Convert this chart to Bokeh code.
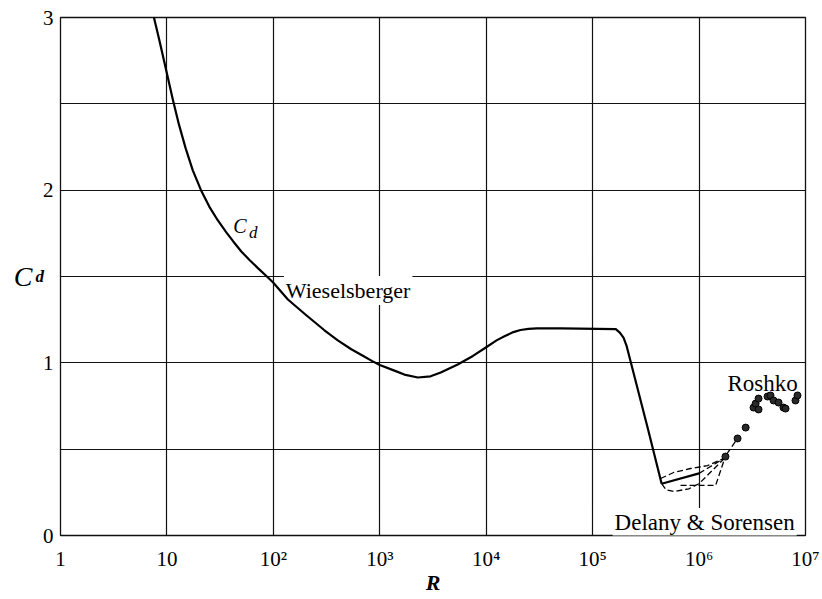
from bokeh.plotting import figure
from bokeh.models import Label, FixedTicker, LinearAxis
from bokeh.embed import file_html
from bokeh.resources import INLINE

# Wieselsberger drag curve for a circular cylinder: Reynolds number vs. C_d
wies_re = [7.55, 8.5, 10, 11.4, 13, 15, 17.5, 20.9, 25, 30, 36, 42, 50, 60,
           72, 88, 100, 137, 200, 300, 400, 535, 700, 850, 1000, 1410, 1700,
           2280, 3000, 3740, 5400, 7500, 1e4, 1.25e4, 1.5e4, 1.8e4, 2.1e4,
           2.5e4, 3e4, 5e4, 1.65e5, 1.8e5, 1.95e5, 2.08e5, 3.3e5, 4.45e5]
wies_cd = [3.0, 2.867, 2.675, 2.521, 2.378, 2.242, 2.115, 2.0, 1.905,
           1.826, 1.757, 1.703, 1.645, 1.594, 1.547, 1.497, 1.464, 1.367,
           1.28, 1.19, 1.132, 1.08, 1.04, 1.01, 0.988, 0.952, 0.932, 0.915,
           0.922, 0.944, 0.99, 1.04, 1.09, 1.13, 1.155, 1.178, 1.19, 1.197,
           1.2, 1.2, 1.195, 1.175, 1.146, 1.10, 0.62, 0.30]

# Delany & Sorensen, supercritical branch (solid + dashed runs)
ds_solid_re = [4.45e5, 1.0e6]
ds_solid_cd = [0.30, 0.36]
ds_upper_re = [4.35e5, 5.77e5, 8.3e5, 1.2e6, 1.7e6, 2.3e6]
ds_upper_cd = [0.33, 0.365, 0.388, 0.405, 0.446, 0.562]
ds_lower_re = [4.45e5, 4.9e5, 5.8e5, 8.0e5, 1.0e6, 1.75e6]
ds_lower_cd = [0.30, 0.265, 0.255, 0.27, 0.30, 0.45]
ds_flat_re = [6.7e5, 1.43e6, 1.75e6]
ds_flat_cd = [0.29, 0.29, 0.45]
ds_mid_re = [1.0e6, 1.75e6]
ds_mid_cd = [0.36, 0.45]

# Roshko measurements
roshko_re = [1.77e6, 2.30e6, 2.74e6, 3.25e6, 3.40e6, 3.62e6, 3.62e6, 4.40e6,
             4.69e6, 5.01e6, 5.58e6, 6.21e6, 6.49e6, 8.05e6, 8.41e6]
roshko_cd = [0.457, 0.562, 0.625, 0.741, 0.764, 0.793, 0.730, 0.805,
             0.811, 0.782, 0.770, 0.741, 0.735, 0.782, 0.811]

# Axis ticks
x_ticks = [1, 10, 1e2, 1e3, 1e4, 1e5, 1e6, 1e7]
x_tick_labels = ["1", "10", "10²", "10³", "10⁴", "10⁵", "10⁶", "10⁷"]
x_grid = [10, 1e2, 1e3, 1e4, 1e5, 1e6]
y_ticks = [0, 1, 2, 3]
y_grid = [0.5, 1, 1.5, 2, 2.5]

SERIF = "Liberation Serif"
INK = "#111111"

p = figure(width=822, height=599, x_axis_type="log", x_range=(1, 1e7),
           y_range=(0, 3), output_backend="svg", toolbar_location=None,
           min_border_left=60, min_border_right=17, min_border_top=17,
           min_border_bottom=64)
p.background_fill_color = "white"
p.border_fill_color = "white"
p.outline_line_color = INK
p.outline_line_width = 1.3

p.xaxis.ticker = FixedTicker(ticks=x_ticks)
p.xaxis.major_label_overrides = {float(t): s for t, s in zip(x_ticks, x_tick_labels)}
p.yaxis.ticker = FixedTicker(ticks=y_ticks)
for ax in (p.xaxis, p.yaxis):
    ax.major_tick_line_color = None
    ax.minor_tick_line_color = None
    ax.axis_line_color = None
    ax.major_label_text_font = SERIF
    ax.major_label_text_font_size = "21px"
    ax.major_label_text_color = "black"
p.xaxis.major_label_standoff = 5
p.yaxis.major_label_standoff = 1
p.xaxis.axis_label = "R"
p.xaxis.axis_label_text_font = SERIF
p.xaxis.axis_label_text_font_style = "bold italic"
p.xaxis.axis_label_text_font_size = "22px"
p.xaxis.axis_label_text_color = "black"
p.xaxis.axis_label_standoff = -4

# vertical axis title "C" with subscript "d", written horizontally
p.yaxis.axis_label = "d"
p.yaxis.axis_label_text_font = SERIF
p.yaxis.axis_label_text_font_style = "bold italic"
p.yaxis.axis_label_text_font_size = "17px"
p.yaxis.axis_label_text_color = "black"
p.yaxis.axis_label_orientation = "horizontal"
p.yaxis.axis_label_standoff = -4

c_axis = LinearAxis(ticker=FixedTicker(ticks=[]), axis_label="C",
                    axis_line_color=None, major_tick_line_color=None,
                    minor_tick_line_color=None,
                    major_label_text_font_size="0px",
                    axis_label_text_font=SERIF,
                    axis_label_text_font_style="italic",
                    axis_label_text_font_size="28px",
                    axis_label_text_color="black",
                    axis_label_orientation="horizontal",
                    axis_label_standoff=0)
p.add_layout(c_axis, "left")

p.xgrid.ticker = FixedTicker(ticks=x_grid)
p.ygrid.ticker = FixedTicker(ticks=y_grid)
for g in (p.xgrid, p.ygrid):
    g.grid_line_color = INK
    g.grid_line_width = 1.2
    g.grid_line_alpha = 1.0

# curves (main curve drawn above the label backgrounds)
p.line(wies_re, wies_cd, line_color="black", line_width=2.2,
       line_join="round", level="overlay")
p.line(ds_solid_re, ds_solid_cd, line_color="black", line_width=2.2)
for xs, ys in ((ds_upper_re, ds_upper_cd), (ds_lower_re, ds_lower_cd),
               (ds_flat_re, ds_flat_cd), (ds_mid_re, ds_mid_cd)):
    p.line(xs, ys, line_color="black", line_width=1.3, line_dash="6 3")
p.scatter(roshko_re, roshko_cd, marker="circle", size=7,
          fill_color="#2a2a2a", line_color="black", line_width=1)

def add_label(x, y, text, size, style="normal", bg=False):
    lab = Label(x=x, y=y, text=text, text_font=SERIF, text_font_size=size,
                text_font_style=style, text_color="black",
                text_baseline="alphabetic", text_align="left")
    if bg:
        lab.background_fill_color = "white"
        lab.padding = 2
    p.add_layout(lab)

# curve annotations
add_label(41.9, 1.795, "C", "20px", "italic")
add_label(58.9, 1.754, "d", "17px", "italic")
add_label(125.5, 1.419, "Wieselsberger", "22px", bg=True)
add_label(1.85e6, 0.88, "Roshko", "23px")
add_label(1.54e5, 0.075, "Delany & Sorensen", "23px", bg=True)

open("out.html", "w").write(file_html(p, INLINE))
